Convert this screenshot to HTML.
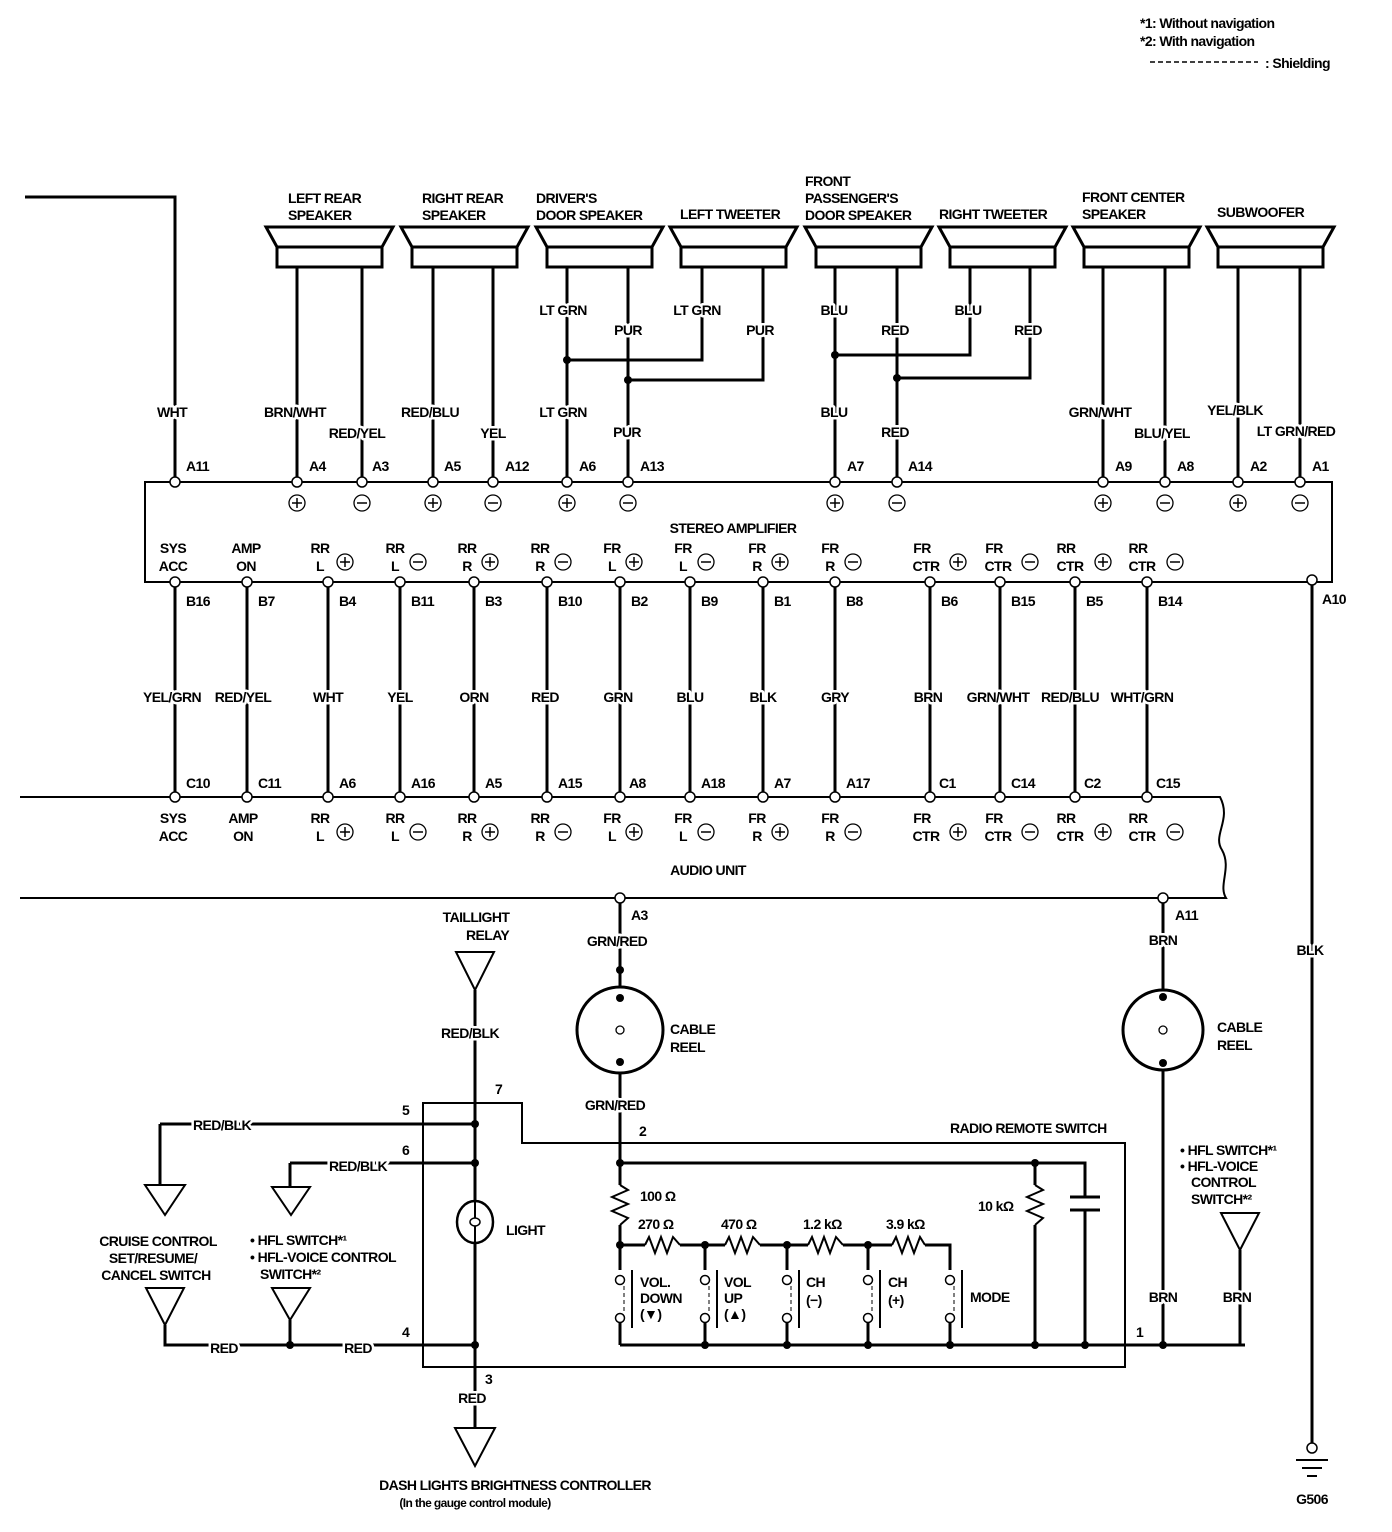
<!DOCTYPE html>
<html><head><meta charset="utf-8"><style>
html,body{margin:0;padding:0;background:#fff}
svg{display:block}
text{font-family:"Liberation Sans Narrow","Liberation Sans",sans-serif;font-weight:bold;font-size:14px;fill:#000;letter-spacing:-0.6px;paint-order:stroke;stroke:#fff;stroke-width:5px;stroke-linejoin:round}
.c{text-anchor:middle}
.w{stroke:#000;stroke-width:3;fill:none}
.t{stroke:#000;stroke-width:2;fill:none}
.pin{fill:#fff;stroke:#000;stroke-width:1.5}
.dot{fill:#000}
</style></head><body>
<svg width="1392" height="1532" viewBox="0 0 1392 1532" xmlns="http://www.w3.org/2000/svg">
<defs>
<g id="p"><circle r="8" fill="#fff" stroke="#000" stroke-width="1.3"/><path d="M-5 0H5M0 -5V5" stroke="#000" stroke-width="1.5"/></g>
<g id="m"><circle r="8" fill="#fff" stroke="#000" stroke-width="1.3"/><path d="M-5 0H5" stroke="#000" stroke-width="1.5"/></g>
<g id="spk"><path d="M0 227H127L116 247H11Z M11 247H116V267H11Z" fill="#fff" stroke="#000" stroke-width="3"/></g>
<g id="sw"><circle cx="0" cy="0" r="4.5" fill="#fff" stroke="#000" stroke-width="1.5"/><circle cx="0" cy="38" r="4.5" fill="#fff" stroke="#000" stroke-width="1.5"/><path d="M4 6V32" stroke="#000" stroke-width="1" stroke-dasharray="4 3"/><path d="M12 -10V48" stroke="#000" stroke-width="2"/></g>
</defs>

<text x="1140" y="28">*1: Without navigation</text>
<text x="1140" y="46">*2: With navigation</text>
<path d="M1150 62H1258" stroke="#000" stroke-width="1.5" stroke-dasharray="5 3"/>
<text x="1265" y="68">: Shielding</text>

<use href="#spk" x="266"/><use href="#spk" x="401"/><use href="#spk" x="536"/><use href="#spk" x="670"/>
<use href="#spk" x="805"/><use href="#spk" x="939"/><use href="#spk" x="1073"/><use href="#spk" x="1207"/>
<text x="288" y="203">LEFT REAR</text><text x="288" y="220">SPEAKER</text>
<text x="422" y="203">RIGHT REAR</text><text x="422" y="220">SPEAKER</text>
<text x="536" y="203">DRIVER'S</text><text x="536" y="220">DOOR SPEAKER</text>
<text x="680" y="219">LEFT TWEETER</text>
<text x="805" y="186">FRONT</text><text x="805" y="203">PASSENGER'S</text><text x="805" y="220">DOOR SPEAKER</text>
<text x="939" y="219">RIGHT TWEETER</text>
<text x="1082" y="202">FRONT CENTER</text><text x="1082" y="219">SPEAKER</text>
<text x="1217" y="217">SUBWOOFER</text>

<path class="w" d="M25 197H175V482 M297 267V482 M362 267V482 M433 267V482 M493 267V482 M567 267V482 M628 267V482 M702 267V360H567 M763 267V380H628 M835 267V482 M897 267V482 M970 267V355H835 M1030 267V378H897 M1103 267V482 M1165 267V482 M1238 267V482 M1300 267V482"/>
<circle class="dot" cx="567" cy="360" r="4"/><circle class="dot" cx="628" cy="380" r="4"/>
<circle class="dot" cx="835" cy="355" r="4"/><circle class="dot" cx="897" cy="378" r="4"/>
<g class="c">
<text x="172" y="417">WHT</text><text x="295" y="417">BRN/WHT</text><text x="357" y="438">RED/YEL</text>
<text x="430" y="417">RED/BLU</text><text x="493" y="438">YEL</text>
<text x="563" y="315">LT GRN</text><text x="628" y="335">PUR</text><text x="697" y="315">LT GRN</text><text x="760" y="335">PUR</text>
<text x="563" y="417">LT GRN</text><text x="627" y="437">PUR</text>
<text x="834" y="315">BLU</text><text x="895" y="335">RED</text><text x="968" y="315">BLU</text><text x="1028" y="335">RED</text>
<text x="834" y="417">BLU</text><text x="895" y="437">RED</text>
<text x="1100" y="417">GRN/WHT</text><text x="1162" y="438">BLU/YEL</text>
<text x="1235" y="415">YEL/BLK</text><text x="1296" y="436">LT GRN/RED</text>
</g>

<rect x="145" y="482" width="1187" height="100" fill="none" stroke="#000" stroke-width="2"/>
<g class="pin">
<circle cx="175" cy="482" r="5"/><circle cx="297" cy="482" r="5"/><circle cx="362" cy="482" r="5"/><circle cx="433" cy="482" r="5"/><circle cx="493" cy="482" r="5"/><circle cx="567" cy="482" r="5"/><circle cx="628" cy="482" r="5"/><circle cx="835" cy="482" r="5"/><circle cx="897" cy="482" r="5"/><circle cx="1103" cy="482" r="5"/><circle cx="1165" cy="482" r="5"/><circle cx="1238" cy="482" r="5"/><circle cx="1300" cy="482" r="5"/>
</g>
<text x="186" y="471">A11</text><text x="309" y="471">A4</text><text x="372" y="471">A3</text><text x="444" y="471">A5</text><text x="505" y="471">A12</text><text x="579" y="471">A6</text><text x="640" y="471">A13</text><text x="847" y="471">A7</text><text x="908" y="471">A14</text><text x="1115" y="471">A9</text><text x="1177" y="471">A8</text><text x="1250" y="471">A2</text><text x="1312" y="471">A1</text>
<use href="#p" x="297" y="503"/><use href="#m" x="362" y="503"/><use href="#p" x="433" y="503"/><use href="#m" x="493" y="503"/><use href="#p" x="567" y="503"/><use href="#m" x="628" y="503"/><use href="#p" x="835" y="503"/><use href="#m" x="897" y="503"/><use href="#p" x="1103" y="503"/><use href="#m" x="1165" y="503"/><use href="#p" x="1238" y="503"/><use href="#m" x="1300" y="503"/>
<text class="c" x="733" y="533">STEREO AMPLIFIER</text>
<g class="c">
<text x="173" y="553">SYS</text><text x="173" y="571">ACC</text>
<text x="246" y="553">AMP</text><text x="246" y="571">ON</text>
<text x="320" y="553">RR</text><text x="320" y="571">L</text>
<text x="395" y="553">RR</text><text x="395" y="571">L</text>
<text x="467" y="553">RR</text><text x="467" y="571">R</text>
<text x="540" y="553">RR</text><text x="540" y="571">R</text>
<text x="612" y="553">FR</text><text x="612" y="571">L</text>
<text x="683" y="553">FR</text><text x="683" y="571">L</text>
<text x="757" y="553">FR</text><text x="757" y="571">R</text>
<text x="830" y="553">FR</text><text x="830" y="571">R</text>
<text x="922" y="553">FR</text><text x="926" y="571">CTR</text>
<text x="994" y="553">FR</text><text x="998" y="571">CTR</text>
<text x="1066" y="553">RR</text><text x="1070" y="571">CTR</text>
<text x="1138" y="553">RR</text><text x="1142" y="571">CTR</text>
</g>
<use href="#p" x="345" y="562"/><use href="#m" x="418" y="562"/><use href="#p" x="490" y="562"/><use href="#m" x="563" y="562"/><use href="#p" x="634" y="562"/><use href="#m" x="706" y="562"/><use href="#p" x="780" y="562"/><use href="#m" x="853" y="562"/><use href="#p" x="958" y="562"/><use href="#m" x="1030" y="562"/><use href="#p" x="1103" y="562"/><use href="#m" x="1175" y="562"/>

<path class="w" d="M175 582V797 M247 582V797 M328 582V797 M400 582V797 M474 582V797 M547 582V797 M620 582V797 M690 582V797 M763 582V797 M835 582V797 M930 582V797 M1000 582V797 M1075 582V797 M1147 582V797 M1312 580V1448"/>
<g class="pin">
<circle cx="175" cy="582" r="5"/><circle cx="247" cy="582" r="5"/><circle cx="328" cy="582" r="5"/><circle cx="400" cy="582" r="5"/><circle cx="474" cy="582" r="5"/><circle cx="547" cy="582" r="5"/><circle cx="620" cy="582" r="5"/><circle cx="690" cy="582" r="5"/><circle cx="763" cy="582" r="5"/><circle cx="835" cy="582" r="5"/><circle cx="930" cy="582" r="5"/><circle cx="1000" cy="582" r="5"/><circle cx="1075" cy="582" r="5"/><circle cx="1147" cy="582" r="5"/><circle cx="1312" cy="580" r="5"/>
</g>
<text x="186" y="606">B16</text><text x="258" y="606">B7</text><text x="339" y="606">B4</text><text x="411" y="606">B11</text><text x="485" y="606">B3</text><text x="558" y="606">B10</text><text x="631" y="606">B2</text><text x="701" y="606">B9</text><text x="774" y="606">B1</text><text x="846" y="606">B8</text><text x="941" y="606">B6</text><text x="1011" y="606">B15</text><text x="1086" y="606">B5</text><text x="1158" y="606">B14</text><text x="1322" y="604">A10</text>
<g class="c">
<text x="172" y="702">YEL/GRN</text><text x="243" y="702">RED/YEL</text><text x="328" y="702">WHT</text><text x="400" y="702">YEL</text><text x="474" y="702">ORN</text><text x="545" y="702">RED</text><text x="618" y="702">GRN</text><text x="690" y="702">BLU</text><text x="763" y="702">BLK</text><text x="835" y="702">GRY</text><text x="928" y="702">BRN</text><text x="998" y="702">GRN/WHT</text><text x="1070" y="702">RED/BLU</text><text x="1142" y="702">WHT/GRN</text>
<text x="1310" y="955">BLK</text>
</g>

<path class="t" d="M20 797H1220C1232 820 1212 835 1222 850C1232 868 1218 885 1226 898H20"/>
<g class="pin">
<circle cx="175" cy="797" r="5"/><circle cx="247" cy="797" r="5"/><circle cx="328" cy="797" r="5"/><circle cx="400" cy="797" r="5"/><circle cx="474" cy="797" r="5"/><circle cx="547" cy="797" r="5"/><circle cx="620" cy="797" r="5"/><circle cx="690" cy="797" r="5"/><circle cx="763" cy="797" r="5"/><circle cx="835" cy="797" r="5"/><circle cx="930" cy="797" r="5"/><circle cx="1000" cy="797" r="5"/><circle cx="1075" cy="797" r="5"/><circle cx="1147" cy="797" r="5"/>
<circle cx="620" cy="898" r="5"/><circle cx="1163" cy="898" r="5"/>
</g>
<text x="186" y="788">C10</text><text x="258" y="788">C11</text><text x="339" y="788">A6</text><text x="411" y="788">A16</text><text x="485" y="788">A5</text><text x="558" y="788">A15</text><text x="629" y="788">A8</text><text x="701" y="788">A18</text><text x="774" y="788">A7</text><text x="846" y="788">A17</text><text x="939" y="788">C1</text><text x="1011" y="788">C14</text><text x="1084" y="788">C2</text><text x="1156" y="788">C15</text>
<g class="c">
<text x="173" y="823">SYS</text><text x="173" y="841">ACC</text>
<text x="243" y="823">AMP</text><text x="243" y="841">ON</text>
<text x="320" y="823">RR</text><text x="320" y="841">L</text>
<text x="395" y="823">RR</text><text x="395" y="841">L</text>
<text x="467" y="823">RR</text><text x="467" y="841">R</text>
<text x="540" y="823">RR</text><text x="540" y="841">R</text>
<text x="612" y="823">FR</text><text x="612" y="841">L</text>
<text x="683" y="823">FR</text><text x="683" y="841">L</text>
<text x="757" y="823">FR</text><text x="757" y="841">R</text>
<text x="830" y="823">FR</text><text x="830" y="841">R</text>
<text x="922" y="823">FR</text><text x="926" y="841">CTR</text>
<text x="994" y="823">FR</text><text x="998" y="841">CTR</text>
<text x="1066" y="823">RR</text><text x="1070" y="841">CTR</text>
<text x="1138" y="823">RR</text><text x="1142" y="841">CTR</text>
<text x="708" y="875">AUDIO UNIT</text>
</g>
<use href="#p" x="345" y="832"/><use href="#m" x="418" y="832"/><use href="#p" x="490" y="832"/><use href="#m" x="563" y="832"/><use href="#p" x="634" y="832"/><use href="#m" x="706" y="832"/><use href="#p" x="780" y="832"/><use href="#m" x="853" y="832"/><use href="#p" x="958" y="832"/><use href="#m" x="1030" y="832"/><use href="#p" x="1103" y="832"/><use href="#m" x="1175" y="832"/>

<circle cx="1312" cy="1448" r="5" fill="#fff" stroke="#000" stroke-width="1.5"/>
<path d="M1296 1460H1328 M1302 1468H1322 M1307 1476H1317" stroke="#000" stroke-width="2"/>
<text class="c" x="1312" y="1504">G506</text>

<text x="631" y="920">A3</text><text x="1175" y="920">A11</text>
<path class="w" d="M620 903V1163 M1163 903V1345"/>
<circle cx="620" cy="1030" r="43" fill="#fff" stroke="#000" stroke-width="3"/>
<circle cx="620" cy="1030" r="4" fill="#fff" stroke="#000" stroke-width="1.3"/>
<circle class="dot" cx="620" cy="970" r="4"/><circle class="dot" cx="620" cy="998" r="4"/><circle class="dot" cx="620" cy="1062" r="4"/>
<circle cx="1163" cy="1030" r="40" fill="#fff" stroke="#000" stroke-width="3"/>
<circle cx="1163" cy="1030" r="4" fill="#fff" stroke="#000" stroke-width="1.3"/>
<circle class="dot" cx="1163" cy="997" r="4"/><circle class="dot" cx="1163" cy="1063" r="4"/>
<path class="w" d="M1163 1345H1245 M1240 1250V1345"/>
<g class="c">
<text x="617" y="946">GRN/RED</text><text x="615" y="1110">GRN/RED</text>
<text x="1163" y="945">BRN</text><text x="1163" y="1302">BRN</text><text x="1237" y="1302">BRN</text>
</g>
<text x="670" y="1034">CABLE</text><text x="670" y="1052">REEL</text>
<text x="1217" y="1032">CABLE</text><text x="1217" y="1050">REEL</text>
<text x="1180" y="1155">• HFL SWITCH*¹</text><text x="1180" y="1171">• HFL-VOICE</text><text x="1191" y="1187">CONTROL</text><text x="1191" y="1204">SWITCH*²</text>
<path d="M1221 1213H1259L1240 1250Z" fill="#fff" stroke="#000" stroke-width="2"/>

<text class="c" x="476" y="922">TAILLIGHT</text><text x="466" y="940">RELAY</text>
<path d="M456 952H494L475 990Z" fill="#fff" stroke="#000" stroke-width="2"/>
<path class="w" d="M475 990V1202 M475 1242V1428"/>
<text class="c" x="470" y="1038">RED/BLK</text>
<ellipse cx="475" cy="1222" rx="18" ry="21" fill="#fff" stroke="#000" stroke-width="2.5"/>
<ellipse cx="475" cy="1222" rx="5" ry="4" fill="none" stroke="#000" stroke-width="1.5"/>
<path d="M475 1202V1218 M475 1226V1242" stroke="#000" stroke-width="2"/>
<text x="506" y="1235">LIGHT</text>
<circle class="dot" cx="475" cy="1124" r="4"/><circle class="dot" cx="475" cy="1163" r="4"/><circle class="dot" cx="475" cy="1345" r="4"/>
<path d="M455 1428H495L475 1466Z" fill="#fff" stroke="#000" stroke-width="2"/>
<text class="c" x="472" y="1403">RED</text>
<text class="c" x="515" y="1490">DASH LIGHTS BRIGHTNESS CONTROLLER</text>
<text class="c" x="475" y="1507" style="font-size:12px">(In the gauge control module)</text>

<path class="t" d="M423 1103H522V1143H1125V1367H423Z"/>
<text x="495" y="1094">7</text><text x="402" y="1115">5</text><text x="402" y="1155">6</text><text x="639" y="1136">2</text><text x="402" y="1337">4</text><text x="485" y="1384">3</text><text x="1136" y="1337">1</text>
<text x="950" y="1133">RADIO REMOTE SWITCH</text>

<path class="w" d="M160 1124H475 M160 1124V1185 M290 1163H475 M290 1163V1187 M165 1325V1345H475 M290 1320V1345"/>
<circle class="dot" cx="290" cy="1345" r="4"/>
<text class="c" x="222" y="1130">RED/BLK</text><text class="c" x="358" y="1171">RED/BLK</text>
<text class="c" x="224" y="1353">RED</text><text class="c" x="358" y="1353">RED</text>
<path d="M145 1185H185L165 1215Z M146 1288H184L165 1325Z M272 1187H310L291 1215Z M272 1288H310L290 1320Z" fill="#fff" stroke="#000" stroke-width="2"/>
<text class="c" x="158" y="1246">CRUISE CONTROL</text><text class="c" x="153" y="1263">SET/RESUME/</text><text class="c" x="156" y="1280">CANCEL SWITCH</text>
<text x="250" y="1245">• HFL SWITCH*¹</text><text x="250" y="1262">• HFL-VOICE CONTROL</text><text x="260" y="1279">SWITCH*²</text>

<path class="w" d="M620 1163H1085V1197 M1085 1210V1345 M1035 1163V1185 M1035 1225V1345 M620 1163V1185 M620 1225V1270 M620 1245H645 M680 1245H725 M760 1245H808 M843 1245H892 M925 1245H950V1270 M705 1245V1270 M787 1245V1270 M868 1245V1270 M620 1318V1345 M705 1318V1345 M787 1318V1345 M868 1318V1345 M950 1318V1345 M620 1345H1163"/>
<path d="M1070 1197H1100 M1070 1210H1100" stroke="#000" stroke-width="3"/>
<path class="t" d="M620 1185L628 1190L612 1197L628 1204L612 1211L628 1218L620 1225 M1035 1185L1043 1190L1027 1197L1043 1204L1027 1211L1043 1218L1035 1225 M645 1245L649 1237L655 1253L661 1237L667 1253L673 1237L680 1245 M725 1245L729 1237L735 1253L741 1237L747 1253L753 1237L760 1245 M808 1245L812 1237L818 1253L824 1237L830 1253L836 1237L843 1245 M892 1245L896 1237L902 1253L908 1237L914 1253L920 1237L925 1245"/>
<circle class="dot" cx="620" cy="1163" r="4"/><circle class="dot" cx="1035" cy="1163" r="4"/>
<circle class="dot" cx="620" cy="1245" r="4"/><circle class="dot" cx="705" cy="1245" r="4"/><circle class="dot" cx="787" cy="1245" r="4"/><circle class="dot" cx="868" cy="1245" r="4"/>
<circle class="dot" cx="705" cy="1345" r="4"/><circle class="dot" cx="787" cy="1345" r="4"/><circle class="dot" cx="868" cy="1345" r="4"/><circle class="dot" cx="950" cy="1345" r="4"/><circle class="dot" cx="1035" cy="1345" r="4"/><circle class="dot" cx="1085" cy="1345" r="4"/><circle class="dot" cx="1163" cy="1345" r="4"/>
<text x="640" y="1201">100 Ω</text><text x="978" y="1211">10 kΩ</text>
<text x="638" y="1229">270 Ω</text><text x="721" y="1229">470 Ω</text><text x="803" y="1229">1.2 kΩ</text><text x="886" y="1229">3.9 kΩ</text>
<use href="#sw" x="620" y="1280"/><use href="#sw" x="705" y="1280"/><use href="#sw" x="787" y="1280"/><use href="#sw" x="868" y="1280"/><use href="#sw" x="950" y="1280"/>
<text x="640" y="1287">VOL.</text><text x="640" y="1303">DOWN</text><text x="640" y="1319">(▼)</text>
<text x="724" y="1287">VOL</text><text x="724" y="1303">UP</text><text x="724" y="1319">(▲)</text>
<text x="806" y="1287">CH</text><text x="806" y="1305">(−)</text>
<text x="888" y="1287">CH</text><text x="888" y="1305">(+)</text>
<text x="970" y="1302">MODE</text>
</svg>
</body></html>
